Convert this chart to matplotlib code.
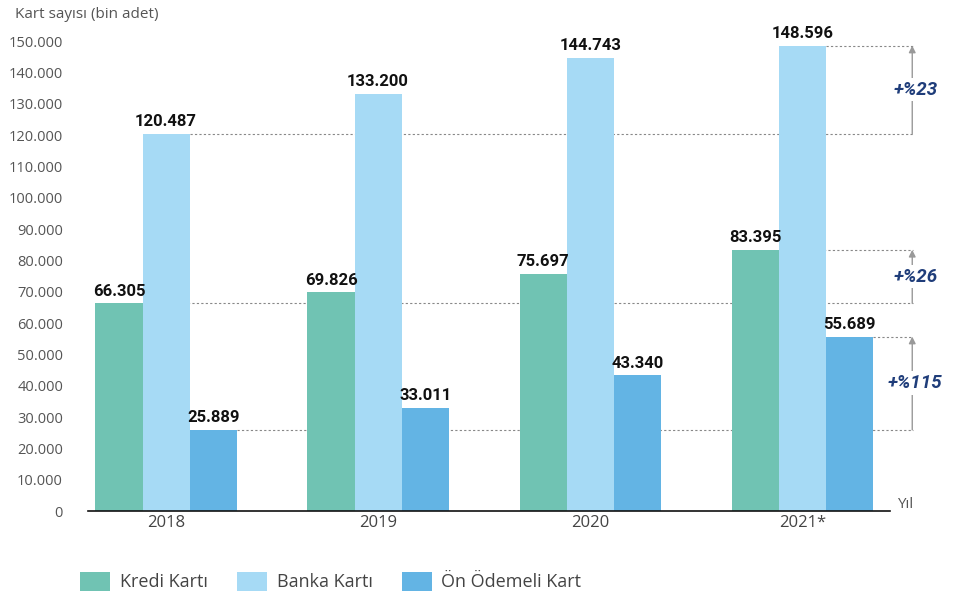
import matplotlib.pyplot as plt
import numpy as np

plt.rcParams['font.family'] = ['Open Sans', 'DejaVu Sans']

years = ['2018', '2019', '2020', '2021*']
kredi = [66305, 69826, 75697, 83395]
banka = [120487, 133200, 144743, 148596]
onodemeli = [25889, 33011, 43340, 55689]
series_names = ['Kredi Kartı', 'Banka Kartı', 'Ön Ödemeli Kart']
growth_labels = ['+%26', '+%23', '+%115']

colors = ['#70c3b3', '#a6daf5', '#63b4e4']
bold_font = ['Roboto', 'DejaVu Sans']

fig = plt.figure(figsize=(9.63, 5.97), dpi=100)
ax = fig.add_axes([0.0914, 0.144, 0.833, 0.787])

x = np.arange(len(years))
w = 0.222
series = [kredi, banka, onodemeli]
for i, (vals, c, name) in enumerate(zip(series, colors, series_names)):
    pos = x + (i - 1) * w
    ax.bar(pos, vals, width=w, color=c, label=name, zorder=2)
    for p, v in zip(pos, vals):
        ax.text(p, v + 1500, f'{v:,}'.replace(',', '.'), ha='center', va='bottom',
                fontsize=12, fontweight='bold', color='#111111', family=bold_font)

xmin, xmax = -0.368, 3.415
ax.set_xlim(xmin, xmax)
ax.set_ylim(0, 150000)

# reference lines + growth arrows
x_end = 3.523
x_arrow = 3.519
for i, (vals, lab) in enumerate(zip(series, growth_labels)):
    first, last = vals[0], vals[-1]
    for j, v in ((0, first), (3, last)):
        start = x[j] + (i - 1) * w + w / 2
        ax.plot([start, x_end], [v, v], ls=(0, (2, 2)), color='#888888', lw=0.8,
                clip_on=False, zorder=1)
    ax.annotate('', xy=(x_arrow, last), xytext=(x_arrow, first),
                arrowprops=dict(arrowstyle='-|>', color='#999999', lw=1,
                                mutation_scale=10, shrinkA=0, shrinkB=0),
                annotation_clip=False)
    ax.text(x_arrow + 0.015, (first + last) / 2, lab, ha='center', va='center',
            fontsize=13.5, fontweight='bold', style='italic', color='#1f3d7a',
            family=bold_font,
            bbox=dict(facecolor='white', edgecolor='none', pad=2), clip_on=False)

ax.set_xticks(x)
ax.set_xticklabels(years, fontsize=12, color='#444444')
ax.set_yticks(np.arange(0, 150001, 10000))
ax.set_yticklabels([f'{int(v):,}'.replace(',', '.') for v in np.arange(0, 150001, 10000)],
                   fontsize=10.5, color='#555555')
ax.tick_params(axis='both', length=0)
ax.tick_params(axis='y', pad=18)
ax.tick_params(axis='x', pad=3)
for s in ['top', 'right', 'left']:
    ax.spines[s].set_visible(False)
ax.spines['bottom'].set_color('#111111')
ax.spines['bottom'].set_linewidth(1.2)

fig.text(15 / 963, 1 - 15 / 597, 'Kart sayısı (bin adet)', fontsize=11,
         color='#555555', va='center', ha='left')
fig.text(897 / 963, 1 - 504 / 597, 'Yıl', fontsize=11, color='#555555',
         va='center', ha='left')

fig.legend(loc='lower left', bbox_to_anchor=(64 / 963, -0.018), ncol=3, frameon=False,
           fontsize=13, handlelength=1.66, handleheight=1.2, columnspacing=1.6,
           handletextpad=0.55, labelcolor='#444444')

fig.savefig('out.png', dpi=100)
